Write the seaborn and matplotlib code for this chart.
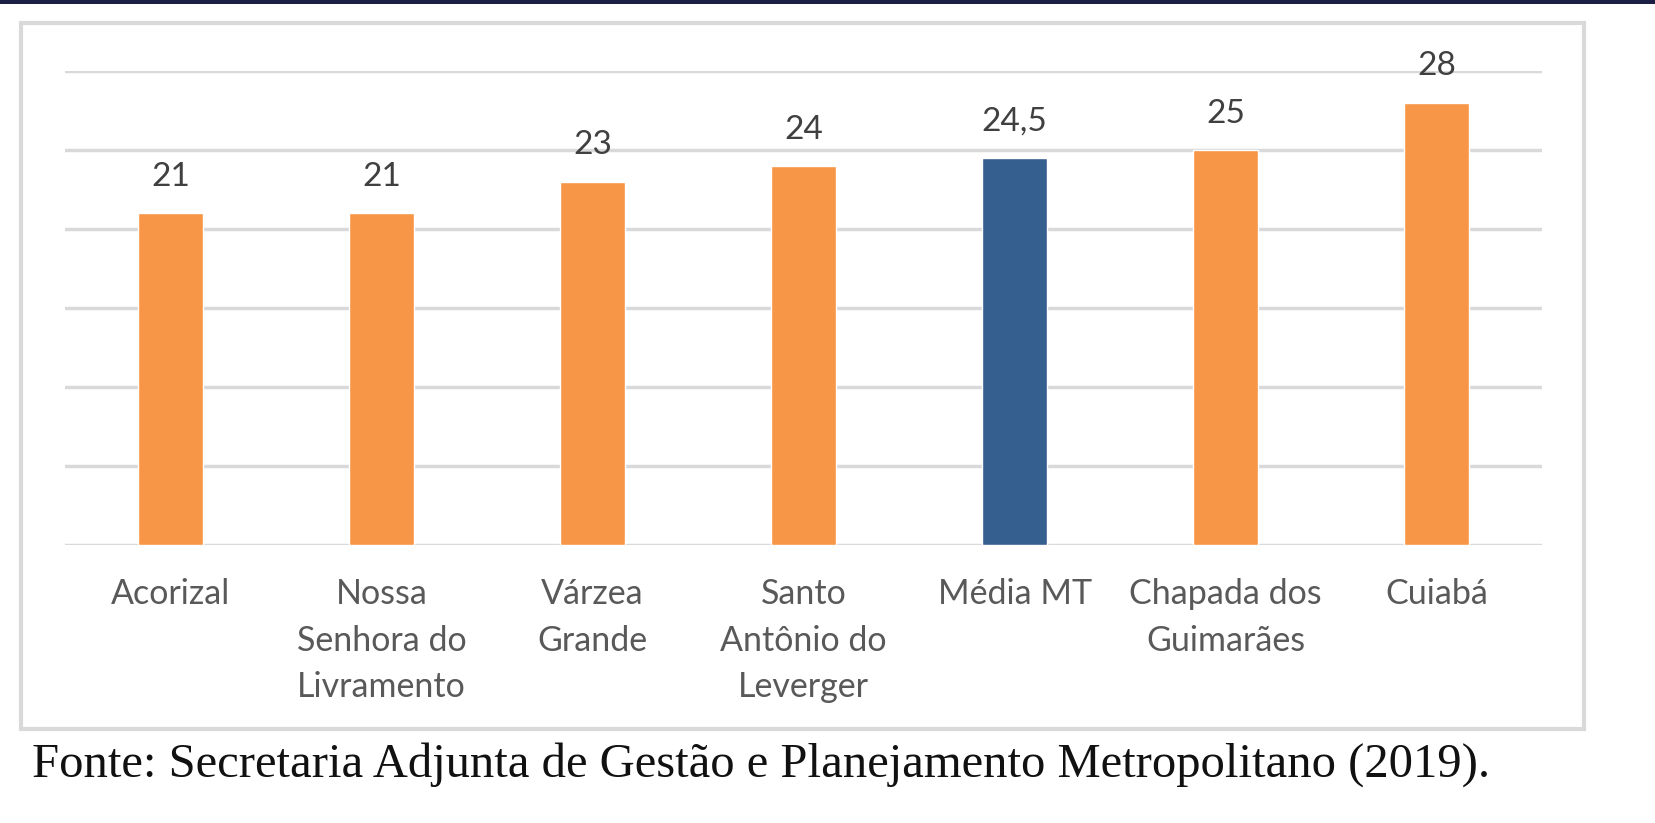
import matplotlib
matplotlib.use("Agg")
import matplotlib.pyplot as plt
import seaborn as sns
from matplotlib.patches import Rectangle

# data
municipios = ["Acorizal", "Nossa\nSenhora do\nLivramento", "Várzea\nGrande",
              "Santo\nAntônio do\nLeverger", "Média MT", "Chapada dos\nGuimarães", "Cuiabá"]
valores = [21, 21, 23, 24, 24.5, 25, 28]
rotulos = ["21", "21", "23", "24", "24,5", "25", "28"]
cores = ["#F79646", "#F79646", "#F79646", "#F79646", "#355F8F", "#F79646", "#F79646"]

sns.set_style("white")
plt.rcParams['font.family'] = ['Lato', 'DejaVu Sans']

fig = plt.figure(figsize=(16.56, 8.23), dpi=100)
ax = fig.add_axes([0.0393, 0.3378, 0.892, 0.576])

sns.barplot(x=municipios, y=valores, hue=municipios, palette=cores,
            legend=False, width=0.31, ax=ax, saturation=1, zorder=3)

ax.set_ylim(0, 30)
ax.set_xlim(-0.5, 6.5)
ax.set_yticks([0, 5, 10, 15, 20, 25, 30])
ax.yaxis.grid(True, color="#d9d9d9", linewidth=2.5, zorder=0)
ax.set_yticklabels([])
ax.tick_params(axis="y", length=0)
ax.tick_params(axis="x", length=0, pad=24, labelsize=24.5, labelcolor="#595959")
for lab in ax.get_xticklabels():
    lab.set_linespacing(1.55)
for s in ax.spines.values():
    s.set_visible(False)
ax.set_xlabel("")
ax.set_ylabel("")

for i, (v, t) in enumerate(zip(valores, rotulos)):
    ax.annotate(t, (i, v), xytext=(0, 26), textcoords="offset points",
                ha="center", va="center", fontsize=24, color="#404040")

# outer chart frame and top band
fig.patches.append(Rectangle((21 / 1656, 1 - 729 / 823), (1584 - 21) / 1656, (729 - 23) / 823,
                             transform=fig.transFigure, fill=False,
                             edgecolor="#d9d9d9", linewidth=3, zorder=0))
fig.patches.append(Rectangle((0, 1 - 4 / 823), 1, 4 / 823, transform=fig.transFigure,
                             facecolor="#1c1f45", edgecolor="none"))

fig.text(32 / 1656, 1 - 777 / 823,
         "Fonte: Secretaria Adjunta de Gestão e Planejamento Metropolitano (2019).",
         family="Liberation Serif", fontsize=35, color="#111111", va="baseline")

fig.savefig("out.png", dpi=100)
